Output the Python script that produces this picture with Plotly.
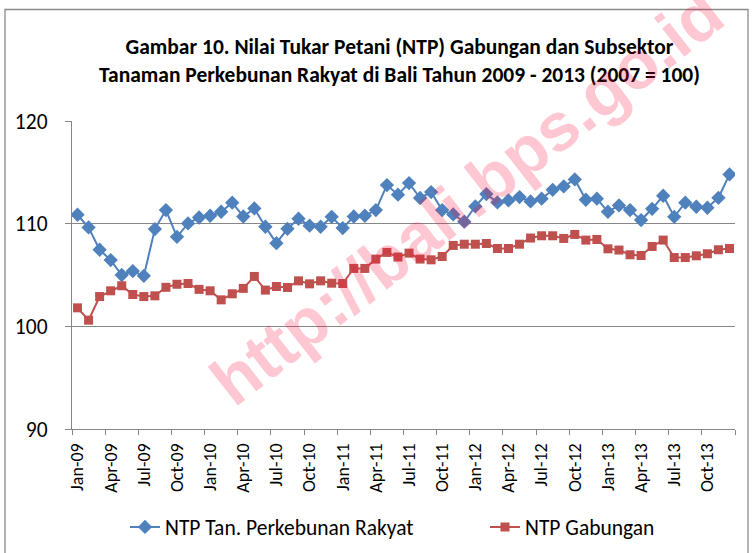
import plotly.graph_objects as go

# ---- data ----
months = ["Jan", "Feb", "Mar", "Apr", "May", "Jun", "Jul", "Aug", "Sep", "Oct", "Nov", "Dec"]
years = ["09", "10", "11", "12", "13"]
categories = [f"{m}-{y}" for y in years for m in months]

ntp_perkebunan = [110.87, 109.63, 107.46, 106.45, 105.00, 105.38, 104.92, 109.47, 111.32, 108.72,
                  110.02, 110.60, 110.77, 111.16, 112.04, 110.70, 111.48, 109.70, 108.10, 109.50,
                  110.48, 109.80, 109.70, 110.67, 109.57, 110.70, 110.77, 111.32, 113.76, 112.82,
                  113.95, 112.50, 113.08, 111.32, 110.90, 110.19, 111.68, 112.88, 112.07, 112.26,
                  112.59, 112.17, 112.43, 113.30, 113.63, 114.31, 112.33, 112.43, 111.16, 111.78,
                  111.32, 110.35, 111.45, 112.72, 110.67, 112.04, 111.65, 111.55, 112.52, 114.80]

ntp_gabungan = [101.80, 100.60, 102.90, 103.46, 103.95, 103.10, 102.90, 102.97, 103.80, 104.10,
                104.17, 103.60, 103.46, 102.58, 103.17, 103.70, 104.86, 103.53, 103.88, 103.78,
                104.43, 104.14, 104.43, 104.20, 104.17, 105.64, 105.64, 106.55, 107.20, 106.75,
                107.13, 106.55, 106.48, 106.80, 107.88, 108.00, 108.00, 108.07, 107.58, 107.58,
                108.00, 108.60, 108.82, 108.82, 108.56, 108.95, 108.40, 108.46, 107.55, 107.43,
                106.97, 106.90, 107.78, 108.40, 106.70, 106.70, 106.87, 107.07, 107.46, 107.58]

tick_labels = ["Jan-09", "Apr-09", "Jul-09", "Oct-09", "Jan-10", "Apr-10", "Jul-10", "Oct-10",
               "Jan-11", "Apr-11", "Jul-11", "Oct-11", "Jan-12", "Apr-12", "Jul-12", "Oct-12",
               "Jan-13", "Apr-13", "Jul-13", "Oct-13"]
y_ticks = [90, 100, 110, 120]

title_text = ("<b>Gambar 10. Nilai Tukar Petani (NTP) Gabungan dan Subsektor<br>"
              "Tanaman Perkebunan Rakyat di Bali Tahun 2009 - 2013 (2007 = 100)</b>")
watermark = "http://bali.bps.go.id"

# ---- layout geometry (pixels) ----
W, H = 754, 553
L, R, T, B = 72, 19, 121, 124
PW, PH = W - L - R, H - T - B


def px(x):
    return (x - L) / PW


def py(y):
    return (H - B - y) / PH


x_idx = list(range(len(categories)))
tick_pos = [categories.index(t) for t in tick_labels]
boundaries = [i - 0.5 for i in range(0, len(categories) + 1, 3)]

FONT = "Calibri, Carlito, Lato, sans-serif"
GRID = "#878787"
FRAME = "#8a8a8a"

fig = go.Figure()
fig.add_trace(go.Scatter(
    x=x_idx, y=ntp_perkebunan, mode="lines+markers", name="NTP Tan. Perkebunan Rakyat",
    customdata=categories, legend="legend",
    line=dict(color="#4F81BD", width=2),
    marker=dict(symbol="diamond", size=11, color="#4F81BD"),
))
fig.add_trace(go.Scatter(
    x=x_idx, y=ntp_gabungan, mode="lines+markers", name="NTP Gabungan",
    customdata=categories, legend="legend2",
    line=dict(color="#C0504D", width=2),
    marker=dict(symbol="square", size=9, color="#C0504D"),
))

legend_common = dict(orientation="h", xanchor="left", y=py(527), yanchor="middle",
                     font=dict(size=21.5, family=FONT), bgcolor="rgba(0,0,0,0)")

fig.update_layout(
    width=W, height=H,
    margin=dict(l=L, r=R, t=T, b=B, autoexpand=False),
    paper_bgcolor="white", plot_bgcolor="white",
    font=dict(family=FONT, color="black"),
    showlegend=True,
    legend=dict(x=px(125), **legend_common),
    legend2=dict(x=px(485), **legend_common),
    xaxis=dict(
        range=[-0.5, len(categories) - 0.5], tickmode="array", tickvals=tick_pos,
        ticktext=tick_labels, tickangle=-90, ticks="", showgrid=False, zeroline=False,
        showline=True, linecolor=GRID, linewidth=1.3, automargin=False,
        tickfont=dict(size=18, family=FONT),
        ticklabelstandoff=6,
        minor=dict(tickmode="array", tickvals=boundaries, ticks="outside", ticklen=5,
                   tickwidth=1.3, tickcolor=GRID, showgrid=False),
    ),
    yaxis=dict(
        range=[90, 120], tickmode="array", tickvals=y_ticks, ticks="outside", ticklen=6,
        tickwidth=1.3, tickcolor=GRID, showgrid=True, gridcolor=GRID, gridwidth=1.3,
        zeroline=False, showline=True, linecolor=GRID, linewidth=1.3, automargin=False,
        tickfont=dict(size=21.5, family=FONT), ticklabelstandoff=13,
    ),
    annotations=[
        dict(text=title_text, xref="paper", yref="paper", x=px(399), y=py(61),
             xanchor="center", yanchor="middle", showarrow=False,
             font=dict(size=21.5, family=FONT, color="black")),
        dict(text=f"<b>{watermark}</b>", xref="paper", yref="paper", x=px(466), y=py(197),
             xanchor="center", yanchor="middle", showarrow=False, textangle=-38,
             font=dict(size=68, family="Liberation Sans, Arial, sans-serif",
                       color="rgba(255,0,45,0.22)")),
    ],
    shapes=[
        dict(type="rect", xref="paper", yref="paper", layer="below",
             x0=px(5), x1=px(748), y0=py(9.5), y1=py(600),
             line=dict(color=FRAME, width=1.3), fillcolor="rgba(0,0,0,0)"),
    ],
)

# remove the default 8px page margin so the figure sits at the window's corner
fig.write_html("out.html", config={"displayModeBar": False},
               post_script="document.body.style.margin='0';")
